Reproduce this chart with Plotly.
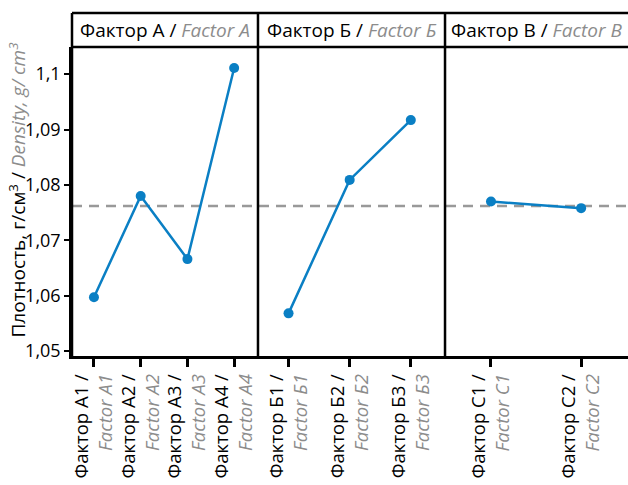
import plotly.graph_objects as go

# Mean density per factor level
levels_a_ru = ["А1", "А2", "А3", "А4"]
levels_a_en = ["A1", "A2", "A3", "A4"]
density_a = [1.0597, 1.0780, 1.0666, 1.1011]

levels_b_ru = ["Б1", "Б2", "Б3"]
levels_b_en = ["Б1", "Б2", "Б3"]
density_b = [1.0568, 1.0809, 1.0917]

levels_c_ru = ["C1", "C2"]
levels_c_en = ["C1", "C2"]
density_c = [1.0770, 1.0758]

overall_mean = 1.0762

panel_titles_ru = ["Фактор А", "Фактор Б", "Фактор В"]
panel_titles_en = ["Factor A", "Factor Б", "Factor B"]

y_tickvals = [1.05, 1.06, 1.07, 1.08, 1.09, 1.10]
y_ticktext = ["1,05", "1,06", "1,07", "1,08", "1,09", "1,1"]

FONT = "Open Sans"
BLUE = "#0a7fc4"
GRAY = "#8c8c8c"
LW = 2.5

def tick_label(ru, en):
    return f"Фактор {ru} /<br><span style='color:{GRAY}'><i>Factor {en}</i></span>"

panels = [
    (levels_a_ru, levels_a_en, density_a, "x", [-0.47, 3.51]),
    (levels_b_ru, levels_b_en, density_b, "x2", [-0.50, 2.56]),
    (levels_c_ru, levels_c_en, density_c, "x3", [-0.51, 1.52]),
]
domains = [[0.0, 0.3345], [0.3345, 0.6709], [0.6709, 1.0]]

fig = go.Figure()
for ru, en, vals, xa, _ in panels:
    fig.add_trace(go.Scatter(
        x=ru, y=vals, xaxis=xa, yaxis="y",
        mode="lines+markers",
        line=dict(color=BLUE, width=LW),
        marker=dict(color=BLUE, size=10),
        showlegend=False, hoverinfo="skip",
    ))

layout = dict(
    width=628, height=485,
    margin=dict(l=72, r=0, t=47, b=129),
    paper_bgcolor="white",
    plot_bgcolor="rgba(0,0,0,0)",
    font=dict(family=FONT, size=18, color="black"),
    yaxis=dict(
        range=[1.0491, 1.1049], anchor="x",
        tickvals=y_tickvals, ticktext=y_ticktext,
        showgrid=False, zeroline=False,
        showline=True, linecolor="black", linewidth=LW,
        ticks="outside", ticklen=5, tickwidth=2, tickcolor="black",
        tickfont=dict(size=18, color="black"),
    ),
)
for i, (ru, en, vals, xa, rng) in enumerate(panels):
    key = "xaxis" if i == 0 else f"xaxis{i + 1}"
    layout[key] = dict(
        domain=domains[i], anchor="y", type="category",
        range=rng,
        tickvals=ru, ticktext=[tick_label(r, e) for r, e in zip(ru, en)],
        tickangle=-90,
        showgrid=False, zeroline=False,
        showline=True, linecolor="black", linewidth=LW,
        ticks="outside", ticklen=8, tickwidth=LW, tickcolor="black",
        tickfont=dict(size=18.5, color="black"),
    )
fig.update_layout(**layout)

header_top = 1.0 + 34 / 309
shapes = [
    # overall mean reference line
    dict(type="line", xref="paper", yref="y", x0=0, x1=1,
         y0=overall_mean, y1=overall_mean,
         line=dict(color="#999999", width=LW, dash="10px,7px"), layer="below"),
    # header strip
    dict(type="line", xref="paper", yref="paper", x0=0, x1=1,
         y0=header_top, y1=header_top, line=dict(color="black", width=LW)),
    dict(type="line", xref="paper", yref="paper", x0=0, x1=1,
         y0=1, y1=1, line=dict(color="black", width=LW)),
]
for d in domains:
    shapes.append(dict(type="line", xref="paper", yref="paper",
                       x0=d[0], x1=d[0], y0=0, y1=header_top,
                       line=dict(color="black", width=LW)))
fig.update_layout(shapes=shapes)

annotations = []
for d, ru, en in zip(domains, panel_titles_ru, panel_titles_en):
    annotations.append(dict(
        xref="paper", yref="paper", x=(d[0] + d[1]) / 2, y=(1 + header_top) / 2,
        xanchor="center", yanchor="middle", showarrow=False,
        text=f"{ru} / <span style='color:{GRAY}'><i>{en}</i></span>",
        font=dict(size=19, color="black"),
    ))
annotations.append(dict(
    xref="paper", yref="paper", x=0, y=0.5, xshift=-55, yshift=11,
    xanchor="center", yanchor="middle", showarrow=False, textangle=-90,
    text=f"Плотность, г/см<sup>3</sup> / <span style='color:{GRAY}'><i>Density, g/ cm<sup>3</sup></i></span>",
    font=dict(size=19, color="black"),
))
fig.update_layout(annotations=annotations)

fig.write_html("out.html")
